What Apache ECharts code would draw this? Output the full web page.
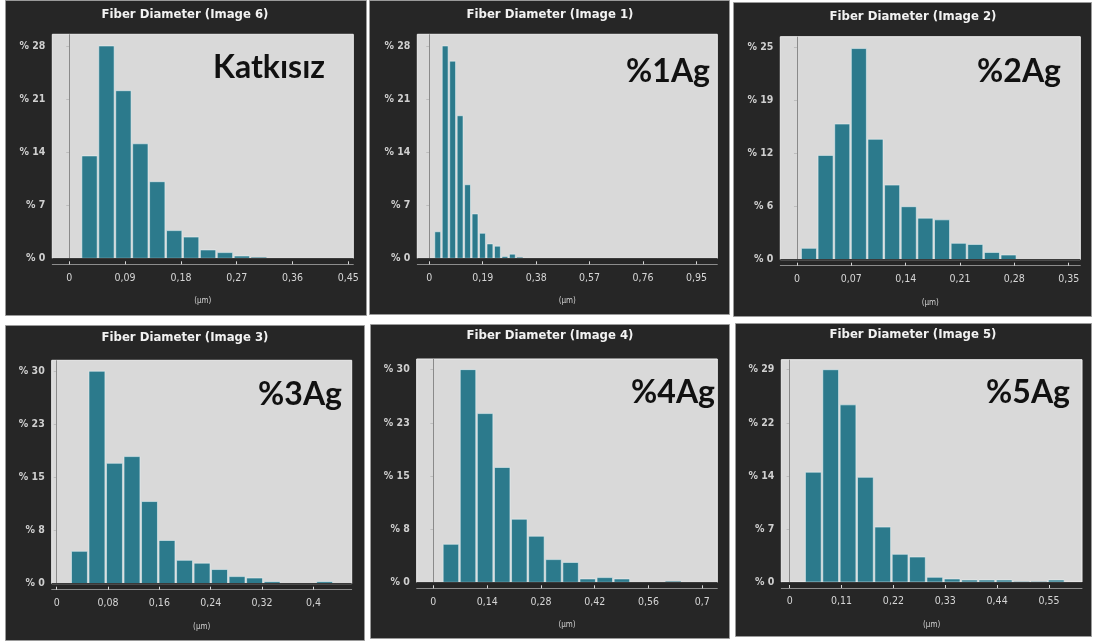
<!DOCTYPE html>
<html><head><meta charset="utf-8">
<script src="https://cdn.jsdelivr.net/npm/echarts@6/dist/echarts.min.js"></script>
<style>html,body{margin:0;padding:0;background:#fff}#c{width:1094px;height:644px}</style>
</head><body><div id="c"></div>
<script>
// ---------- DATA ----------
const panelTitles = ['Fiber Diameter (Image 6)','Fiber Diameter (Image 1)','Fiber Diameter (Image 2)',
                     'Fiber Diameter (Image 3)','Fiber Diameter (Image 4)','Fiber Diameter (Image 5)'];
const panelTags = ['Katkısız','%1Ag','%2Ag','%3Ag','%4Ag','%5Ag'];
const xAxisName = '(µm)';

// histogram percentages (%)
const pctKatkisiz = [13.5, 28.0, 22.1, 15.1, 10.1, 3.65, 2.8, 1.1, 0.75, 0.3, 0.1, 0.05, 0.05, 0, 0.05];
const pct1Ag      = [3.5, 28.0, 26.0, 18.8, 9.7, 5.85, 3.3, 1.9, 1.6, 0.25, 0.55, 0.1, 0.05, 0.05, 0.05];
const pct2Ag      = [1.34, 12.3, 16.0, 24.9, 14.2, 8.8, 6.25, 4.9, 4.7, 1.93, 1.8, 0.86, 0.55, 0.05, 0.05, 0.05];
const pct3Ag      = [4.57, 30.0, 17.0, 17.95, 11.6, 6.1, 3.3, 2.9, 2.0, 1.0, 0.8, 0.28, 0.05, 0.05, 0.28];
const pct4Ag      = [5.36, 30.0, 23.8, 16.2, 8.9, 6.5, 3.2, 2.8, 0.47, 0.66, 0.47, 0.05, 0.05, 0.1, 0.05];
const pct5Ag      = [15.0, 29.0, 24.2, 14.3, 7.5, 3.78, 3.41, 0.64, 0.41, 0.27, 0.27, 0.27, 0.05, 0.05, 0.27];

// bin geometry (µm)
const binStart = [0.019, 0.0166, 0.0047, 0.0218, 0.0234, 0.0318];
const binWidth = [0.0273, 0.02654, 0.02143, 0.02729, 0.0445, 0.0368];

// tick values and labels
const xTicks1 = [0, 0.09, 0.18, 0.27, 0.36, 0.45];  const xLabels1 = ['0','0,09','0,18','0,27','0,36','0,45'];
const xTicks2 = [0, 0.19, 0.38, 0.57, 0.76, 0.95];  const xLabels2 = ['0','0,19','0,38','0,57','0,76','0,95'];
const xTicks3 = [0, 0.07, 0.14, 0.21, 0.28, 0.35];  const xLabels3 = ['0','0,07','0,14','0,21','0,28','0,35'];
const xTicks4 = [0, 0.08, 0.16, 0.24, 0.32, 0.4];   const xLabels4 = ['0','0,08','0,16','0,24','0,32','0,4'];
const xTicks5 = [0, 0.14, 0.28, 0.42, 0.56, 0.7];   const xLabels5 = ['0','0,14','0,28','0,42','0,56','0,7'];
const xTicks6 = [0, 0.11, 0.22, 0.33, 0.44, 0.55];  const xLabels6 = ['0','0,11','0,22','0,33','0,44','0,55'];

const yTicks1 = [0, 7, 14, 21, 28];            const yLabels1 = ['% 0','% 7','% 14','% 21','% 28'];
const yTicks2 = [0, 7, 14, 21, 28];            const yLabels2 = ['% 0','% 7','% 14','% 21','% 28'];
const yTicks3 = [0, 6.25, 12.5, 18.75, 25];    const yLabels3 = ['% 0','% 6','% 12','% 19','% 25'];
const yTicks4 = [0, 7.5, 15, 22.5, 30];        const yLabels4 = ['% 0','% 8','% 15','% 23','% 30'];
const yTicks5 = [0, 7.5, 15, 22.5, 30];        const yLabels5 = ['% 0','% 8','% 15','% 23','% 30'];
const yTicks6 = [0, 7.25, 14.5, 21.75, 29];    const yLabels6 = ['% 0','% 7','% 14','% 22','% 29'];

// ---------- LAYOUT ----------
const pctAll = [pctKatkisiz, pct1Ag, pct2Ag, pct3Ag, pct4Ag, pct5Ag];
const xTicksAll = [xTicks1, xTicks2, xTicks3, xTicks4, xTicks5, xTicks6];
const xLabelsAll = [xLabels1, xLabels2, xLabels3, xLabels4, xLabels5, xLabels6];
const yTicksAll = [yTicks1, yTicks2, yTicks3, yTicks4, yTicks5, yTicks6];
const yLabelsAll = [yLabels1, yLabels2, yLabels3, yLabels4, yLabels5, yLabels6];

const layout = [
  {frame:[5,0,361,315],   grid:[52.3,34.3,301,224],   xr:[-0.0274,0.458], ymax:29.54, title:[185,15], tag:[325,68]},
  {frame:[369,0,360,314], grid:[417.3,34.3,300,224],  xr:[-0.0427,1.024], ymax:29.54, title:[550,15], tag:[710,72]},
  {frame:[733,2,358,314], grid:[780.3,36.7,300,223],  xr:[-0.0215,0.365], ymax:26.3,  title:[913,17], tag:[1061,72]},
  {frame:[5,325,359,315], grid:[51.7,360.3,300,223.4],xr:[-0.0078,0.4597],ymax:31.55, title:[185,338], tag:[342,395]},
  {frame:[370,324,359,314],grid:[416.7,359,300.6,223.3],xr:[-0.0434,0.739],ymax:31.5, title:[550,336], tag:[715,393]},
  {frame:[735,323,356,313],grid:[781.3,359.7,300.7,222.3],xr:[-0.0177,0.62],ymax:30.37, title:[913,335], tag:[1070,393]}
];

const narrow = '"Liberation Sans Narrow","DejaVu Sans Condensed","Roboto Condensed",sans-serif';
const grids = [], xAxes = [], yAxes = [], series = [], graphics = [];

function labelFor(ticks, labels){
  return function(v){
    const i = ticks.findIndex(t => Math.abs(t - v) < 1e-7);
    return i >= 0 ? labels[i] : '';
  };
}

layout.forEach((L, k) => {
  const [fx, fy, fw, fh] = L.frame;
  graphics.push({type:'rect', z:-10, shape:{x:fx+0.5, y:fy+0.5, width:fw, height:fh},
    style:{fill:'#262626', stroke:'#9a9a9a', lineWidth:1}});
  graphics.push({type:'text', z:50, x:L.title[0], y:L.title[1],
    style:{text:panelTitles[k], fill:'#f2f2f2', font:'bold 13px ' + narrow, textAlign:'center', textVerticalAlign:'middle'}});
  graphics.push({type:'text', z:50, x:L.tag[0], y:L.tag[1],
    style:{text:panelTags[k], fill:'#111', font:'bold 32px Lato, "Open Sans", sans-serif', textAlign:'right', textVerticalAlign:'middle'}});

  const [gl, gt, gw, gh] = L.grid;
  grids.push({left:gl, top:gt, width:gw, height:gh, show:true, backgroundColor:'#d9d9d9', borderColor:'#eeeeee', borderWidth:1});
  xAxes.push({
    type:'value', gridIndex:k, min:L.xr[0], max:L.xr[1], offset:6,
    axisLine:{show:true, onZero:false, lineStyle:{color:'#8c8c8c', width:1}},
    axisTick:{show:true, inside:true, length:3, customValues:xTicksAll[k], lineStyle:{color:'#d8d8d8'}},
    axisLabel:{customValues:xTicksAll[k], formatter:labelFor(xTicksAll[k], xLabelsAll[k]),
      color:'#d6d6d6', fontSize:10.5, fontFamily:narrow, margin:8},
    splitLine:{show:false},
    name:xAxisName, nameLocation:'middle', nameGap:33,
    nameTextStyle:{color:'#d0d0d0', fontSize:8, fontFamily:narrow}
  });
  yAxes.push({
    type:'value', gridIndex:k, min:0, max:L.ymax, offset:2,
    axisLine:{show:false},
    axisTick:{show:true, length:3, customValues:yTicksAll[k], lineStyle:{color:'#bdbdbd'}},
    axisLabel:{customValues:yTicksAll[k], formatter:labelFor(yTicksAll[k], yLabelsAll[k]),
      color:'#cfcfcf', fontSize:10.5, fontWeight:'bold', fontFamily:narrow, margin:5},
    splitLine:{show:false}
  });
  const data = pctAll[k].map((v, i) => [binStart[k] + i*binWidth[k], binStart[k] + (i+1)*binWidth[k], v]);
  series.push({
    type:'custom', xAxisIndex:k, yAxisIndex:k, data:data, silent:true, clip:true,
    encode:{x:[0,1], y:2},
    renderItem:function(params, api){
      const p0 = api.coord([api.value(0), api.value(2)]);
      const p1 = api.coord([api.value(1), 0]);
      const h = p1[1] - p0[1];
      return {type:'rect', shape:{x:p0[0]+0.8, y:p0[1], width:Math.max(p1[0]-p0[0]-1.6, 0.5), height:h},
        style:{fill:'#2c7a8c', stroke:'rgba(235,245,248,0.55)', lineWidth:h > 1.5 ? 1 : 0}};
    },
    markLine:{silent:true, symbol:'none', label:{show:false},
      data:[{xAxis:0, lineStyle:{color:'#8a8a8a', width:1, type:'solid'}},
            {yAxis:0, lineStyle:{color:'#3a3a3a', width:1.2, type:'solid'}}]}
  });
});

const chart = echarts.init(document.getElementById('c'), null, {renderer:'canvas'});
chart.setOption({
  animation:false,
  backgroundColor:'#ffffff',
  grid:grids, xAxis:xAxes, yAxis:yAxes, series:series,
  graphic:{elements:graphics}
});
</script>
</body></html>
